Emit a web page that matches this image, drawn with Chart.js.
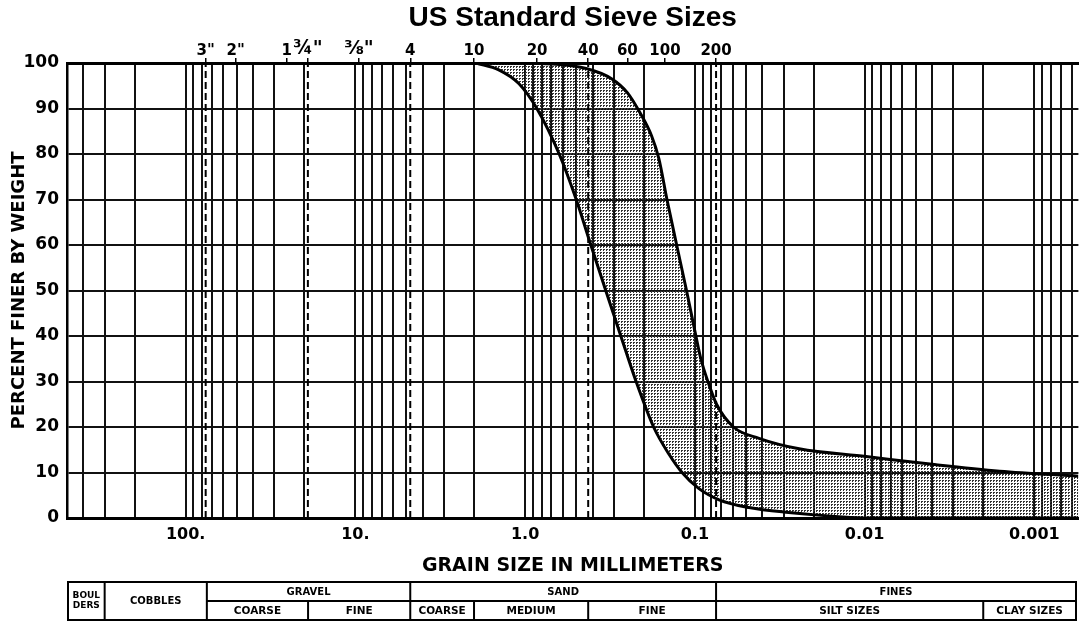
<!DOCTYPE html>
<html>
<head>
<meta charset="utf-8">
<script src="https://cdn.jsdelivr.net/npm/chart.js"></script>
<style>
  html, body { margin: 0; padding: 0; background: #fff; }
  #wrap { width: 1079px; height: 625px; position: relative; }
</style>
</head>
<body>
<div id="wrap"><canvas id="chart"></canvas></div>
<script>
// grain size (mm) and percent finer for the two limits of the band
const coarseSize = [1.94, 1.43, 1.09, 0.853, 0.63, 0.50, 0.41, 0.335, 0.273, 0.222, 0.175, 0.142, 0.119, 0.095, 0.072, 0.048, 0.028, 0.0142, 0.0096, 0.002, 0.00055];
const coarsePct = [100, 98.5, 95.5, 90, 80, 70, 60, 50, 40, 30, 20, 14, 10, 6.5, 4, 2.3, 1.2, 0.3, 0, 0, 0];
const fineSize = [1.94, 0.83, 0.437, 0.308, 0.25, 0.21, 0.18, 0.163, 0.146, 0.128, 0.112, 0.0986, 0.0922, 0.0838, 0.0745, 0.0592, 0.0419, 0.0243, 0.0098, 0.004, 0.0016, 0.00055];
const finePct = [100, 99.9, 98.8, 96.5, 93.5, 89, 84, 79, 70, 60, 50, 40, 35, 30, 25, 20, 17.5, 15.2, 13.5, 11.8, 10.3, 9.2];

const sizeLabelValues = [100, 10, 1, 0.1, 0.01, 0.001];
const sizeLabels = ['100.', '10.', '1.0', '0.1', '0.01', '0.001'];
const sieveOpenings = [76.2, 50.8, 25.4, 19.05, 9.525, 4.75, 2.0, 0.85, 0.425, 0.25, 0.15, 0.075];
const sieveLabels = ['3"', '2"', '1', '¾"', '⅜"', '4', '10', '20', '40', '60', '100', '200'];
const dashedSieves = [76.2, 19.05, 4.75, 0.425, 0.075];

const classNames = ['BOUL\nDERS', 'COBBLES', 'GRAVEL', 'SAND', 'FINES'];
const classLimits = [500, 300, 75, 4.75, 0.075, 0.00055];
const classSplit = [false, false, true, true, true];
const subNames = ['COARSE', 'FINE', 'COARSE', 'MEDIUM', 'FINE', 'SILT SIZES', 'CLAY SIZES'];
const subLimits = [75, 19, 4.75, 2, 0.425, 0.075, 0.002, 0.00055];

const sizeMin = 0.00055;
const sizeMax = 500;

const gridSizes = [];
for (let e = 2; e >= -4; e--) {
  for (let m = 9; m >= 1; m--) {
    const v = m * Math.pow(10, e);
    if (v <= sizeMax && v >= sizeMin) gridSizes.push(v);
  }
}

const sameValue = (a, b) => Math.abs(Math.log10(a) - Math.log10(b)) < 1e-6;

// stipple used for the shaded band
const dots = document.createElement('canvas');
dots.width = 3;
dots.height = 3;
const dotsCtx = dots.getContext('2d');
dotsCtx.fillStyle = '#333';
dotsCtx.fillRect(0, 0, 2, 1);
dotsCtx.fillRect(0, 1, 1, 1);
const dotPattern = dotsCtx.createPattern(dots, 'repeat');

const soilTable = {
  id: 'soilTable',
  afterDraw(chart) {
    const ctx = chart.ctx;
    const xs = chart.scales.x;
    const px = (v) => Math.max(Math.min(xs.getPixelForValue(v), chart.width - 3), xs.left + 1);
    const top = 582, mid = 601, bottom = 620;
    const left = px(classLimits[0]);
    const right = px(classLimits[classLimits.length - 1]);

    ctx.save();
    ctx.strokeStyle = '#000';
    ctx.fillStyle = '#000';
    ctx.lineWidth = 2;
    ctx.strokeRect(left, top, right - left, bottom - top);

    ctx.beginPath();
    ctx.moveTo(px(classLimits[2]), mid);
    ctx.lineTo(right, mid);
    for (let i = 1; i < classLimits.length - 1; i++) {
      ctx.moveTo(px(classLimits[i]), top);
      ctx.lineTo(px(classLimits[i]), bottom);
    }
    for (let i = 1; i < subLimits.length - 1; i++) {
      ctx.moveTo(px(subLimits[i]), mid);
      ctx.lineTo(px(subLimits[i]), bottom);
    }
    ctx.stroke();

    ctx.textAlign = 'center';
    ctx.textBaseline = 'middle';
    ctx.font = 'bold 10px "DejaVu Sans"';
    classNames.forEach((name, i) => {
      const cx = (px(classLimits[i]) + px(classLimits[i + 1])) / 2;
      const cy = classSplit[i] ? (top + mid) / 2 + 1 : (top + bottom) / 2;
      const lines = name.split('\n');
      if (lines.length > 1) {
        ctx.font = 'bold 9px "DejaVu Sans"';
        lines.forEach((t, k) => ctx.fillText(t, cx, cy + (k - 0.5) * 10));
        ctx.font = 'bold 10px "DejaVu Sans"';
      } else {
        ctx.fillText(name, cx, cy);
      }
    });
    ctx.font = 'bold 10.5px "DejaVu Sans"';
    subNames.forEach((name, i) => {
      const cx = (px(subLimits[i]) + px(subLimits[i + 1])) / 2;
      ctx.fillText(name, cx, (mid + bottom) / 2 + 1);
    });
    ctx.restore();
  }
};

const curvePoints = (sizes, pcts) => sizes.map((s, i) => ({ x: s, y: pcts[i] }));

const datasets = [
  {
    data: curvePoints(coarseSize, coarsePct),
    borderColor: '#000',
    borderWidth: 3,
    pointRadius: 0,
    cubicInterpolationMode: 'monotone',
    fill: false,
    xAxisID: 'x',
    yAxisID: 'y'
  },
  {
    data: curvePoints(fineSize, finePct),
    borderColor: '#000',
    borderWidth: 3,
    pointRadius: 0,
    cubicInterpolationMode: 'monotone',
    backgroundColor: dotPattern,
    fill: '-1',
    xAxisID: 'x',
    yAxisID: 'y'
  }
];

dashedSieves.forEach((s) => {
  datasets.push({
    data: [{ x: s, y: 0 }, { x: s, y: 100 }],
    borderColor: '#000',
    borderWidth: 2,
    borderDash: [7, 4],
    pointRadius: 0,
    fill: false,
    order: -1,
    xAxisID: 'x',
    yAxisID: 'y'
  });
});

const boldFont = (size) => ({ family: '"DejaVu Sans"', size: size, weight: 'bold' });

new Chart(document.getElementById('chart'), {
  type: 'line',
  data: { datasets: datasets },
  plugins: [soilTable],
  options: {
    responsive: true,
    maintainAspectRatio: false,
    animation: false,
    layout: { padding: { left: 0, right: 0, top: 0, bottom: 47 } },
    plugins: {
      legend: { display: false },
      tooltip: { enabled: false },
      title: { display: false }
    },
    scales: {
      x: {
        type: 'logarithmic',
        position: 'bottom',
        reverse: true,
        min: sizeMin,
        max: sizeMax,
        afterBuildTicks: (scale) => {
          scale.ticks = gridSizes.map((v) => ({ value: v }));
        },
        afterFit: (scale) => {
          scale.height = 60;
        },
        ticks: {
          autoSkip: false,
          maxRotation: 0,
          minRotation: 0,
          padding: 7,
          color: '#000',
          font: boldFont(16),
          callback: (value) => {
            const i = sizeLabelValues.findIndex((v) => sameValue(v, value));
            return i >= 0 ? sizeLabels[i] : '';
          }
        },
        grid: { color: '#111', lineWidth: 2, drawTicks: false },
        border: { display: true, color: '#000', width: 3 },
        title: {
          display: true,
          text: 'GRAIN SIZE IN MILLIMETERS',
          color: '#000',
          font: boldFont(19),
          padding: { top: 0, bottom: 1 }
        }
      },
      sieve: {
        type: 'logarithmic',
        axis: 'x',
        position: 'top',
        reverse: true,
        min: sizeMin,
        max: sizeMax,
        afterBuildTicks: (scale) => {
          scale.ticks = sieveOpenings.map((v) => ({ value: v }));
        },
        afterFit: (scale) => {
          scale.height = 63;
        },
        ticks: {
          autoSkip: false,
          maxRotation: 0,
          minRotation: 0,
          padding: -2,
          color: '#000',
          font: (ctx) => boldFont(ctx.index === 3 || ctx.index === 4 ? 19 : 15),
          callback: (value, i) => sieveLabels[i]
        },
        grid: { drawOnChartArea: false, drawTicks: true, tickLength: 5, color: '#000', lineWidth: 1.5 },
        border: { display: true, color: '#000', width: 3 },
        title: {
          display: true,
          text: 'US Standard Sieve Sizes',
          color: '#000',
          font: { family: '"Liberation Sans"', size: 28, weight: 'bold' },
          padding: { top: 1, bottom: 0 }
        }
      },
      y: {
        type: 'linear',
        min: 0,
        max: 100,
        afterFit: (scale) => {
          scale.width = 67;
        },
        ticks: {
          stepSize: 5,
          padding: 8,
          color: '#000',
          font: boldFont(17),
          callback: (value) => (value % 10 === 0 ? String(value) : '')
        },
        grid: { color: '#111', lineWidth: 2, drawTicks: false },
        border: { display: true, color: '#000', width: 2.5 },
        title: {
          display: true,
          text: 'PERCENT FINER BY WEIGHT',
          color: '#000',
          font: boldFont(18),
          padding: { top: 9, bottom: 0 }
        }
      }
    }
  }
});
</script>
</body>
</html>
